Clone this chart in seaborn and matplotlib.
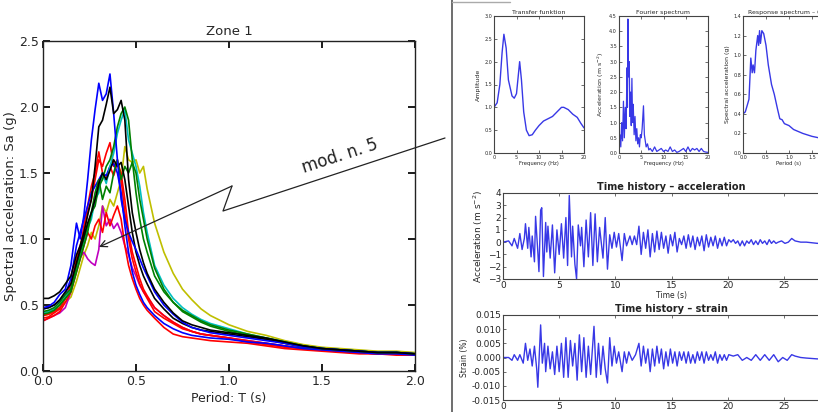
import numpy as np
import pandas as pd
import matplotlib
matplotlib.use("Agg")
import matplotlib.pyplot as plt
from matplotlib.lines import Line2D
import seaborn as sns

W, H = 818, 412

# ---- left panel: response spectra, Zone 1 ----
period = [0.00, 0.03, 0.06, 0.09, 0.12, 0.15, 0.18, 0.20, 0.22, 0.24, 0.26, 0.28,
          0.30, 0.32, 0.34, 0.36, 0.38, 0.40, 0.42, 0.44, 0.46, 0.48, 0.50, 0.52,
          0.54, 0.56, 0.60, 0.65, 0.70, 0.75, 0.80, 0.85, 0.90, 1.00, 1.10, 1.20,
          1.30, 1.40, 1.50, 1.60, 1.70, 1.80, 1.90, 2.00]

sa_blue_a = [0.48, 0.49, 0.52, 0.58, 0.62, 0.80, 1.12, 1.00, 1.18, 1.45, 1.75, 1.98,
             2.18, 2.05, 2.10, 2.25, 1.95, 1.60, 1.30, 1.15, 1.05, 0.98, 0.92, 0.85,
             0.78, 0.72, 0.60, 0.50, 0.43, 0.37, 0.33, 0.31, 0.29, 0.27, 0.25, 0.23,
             0.21, 0.18, 0.17, 0.16, 0.15, 0.14, 0.14, 0.13]
sa_black_a = [0.55, 0.55, 0.57, 0.60, 0.66, 0.72, 0.88, 0.95, 1.05, 1.18, 1.30, 1.55,
              1.85, 1.90, 2.02, 2.15, 1.95, 1.98, 2.05, 1.90, 1.45, 1.20, 1.05, 0.92,
              0.82, 0.74, 0.62, 0.52, 0.44, 0.38, 0.35, 0.33, 0.31, 0.29, 0.27, 0.25,
              0.22, 0.19, 0.17, 0.16, 0.15, 0.14, 0.14, 0.13]
sa_green_a = [0.45, 0.46, 0.48, 0.52, 0.58, 0.62, 0.80, 0.90, 1.00, 1.10, 1.20, 1.25,
              1.40, 1.45, 1.55, 1.60, 1.70, 1.85, 1.95, 2.00, 1.90, 1.60, 1.35, 1.15,
              1.00, 0.90, 0.72, 0.60, 0.52, 0.46, 0.42, 0.38, 0.35, 0.31, 0.28, 0.25,
              0.22, 0.19, 0.17, 0.16, 0.15, 0.14, 0.14, 0.13]
sa_cyan_a = [0.44, 0.45, 0.47, 0.50, 0.56, 0.62, 0.78, 0.88, 0.98, 1.08, 1.15, 1.30,
             1.35, 1.50, 1.42, 1.55, 1.65, 1.80, 1.90, 1.98, 1.75, 1.65, 1.55, 1.40,
             1.20, 1.05, 0.80, 0.65, 0.55, 0.48, 0.43, 0.39, 0.36, 0.32, 0.28, 0.25,
             0.22, 0.19, 0.17, 0.16, 0.15, 0.14, 0.14, 0.13]
sa_green_b = [0.43, 0.44, 0.46, 0.50, 0.55, 0.60, 0.75, 0.85, 0.95, 1.05, 1.20, 1.35,
              1.45, 1.30, 1.40, 1.35, 1.50, 1.60, 1.45, 1.55, 1.50, 1.58, 1.50, 1.30,
              1.15, 1.00, 0.78, 0.62, 0.52, 0.45, 0.41, 0.37, 0.34, 0.30, 0.27, 0.24,
              0.21, 0.18, 0.17, 0.16, 0.15, 0.14, 0.14, 0.13]
sa_red_a = [0.42, 0.43, 0.45, 0.48, 0.55, 0.65, 0.85, 0.95, 1.05, 1.20, 1.30, 1.45,
            1.60, 1.55, 1.65, 1.73, 1.55, 1.60, 1.45, 1.20, 1.00, 0.85, 0.75, 0.66,
            0.60, 0.55, 0.45, 0.40, 0.36, 0.32, 0.30, 0.28, 0.27, 0.25, 0.23, 0.21,
            0.19, 0.17, 0.16, 0.15, 0.14, 0.13, 0.13, 0.12]
sa_red_b = [0.40, 0.41, 0.44, 0.47, 0.55, 0.65, 0.80, 0.92, 1.10, 1.25, 1.40, 1.50,
            1.66, 1.50, 1.45, 1.55, 1.48, 1.58, 1.50, 1.30, 1.05, 0.90, 0.80, 0.70,
            0.62, 0.57, 0.48, 0.42, 0.37, 0.33, 0.30, 0.28, 0.27, 0.25, 0.22, 0.20,
            0.18, 0.17, 0.16, 0.15, 0.14, 0.13, 0.13, 0.12]
sa_red_c = [0.38, 0.40, 0.42, 0.45, 0.52, 0.60, 0.75, 0.85, 0.95, 1.05, 1.00, 1.10,
            1.15, 1.05, 1.20, 1.10, 1.18, 1.25, 1.15, 0.95, 0.80, 0.70, 0.62, 0.55,
            0.50, 0.46, 0.40, 0.33, 0.28, 0.26, 0.25, 0.24, 0.23, 0.22, 0.21, 0.19,
            0.17, 0.16, 0.15, 0.14, 0.13, 0.13, 0.12, 0.12]
sa_yellow_a = [0.42, 0.43, 0.45, 0.48, 0.52, 0.56, 0.68, 0.78, 0.88, 0.95, 1.05, 1.00,
               1.10, 1.25, 1.20, 1.30, 1.25, 1.35, 1.45, 1.70, 1.60, 1.58, 1.60, 1.50,
               1.55, 1.38, 1.12, 0.90, 0.74, 0.62, 0.54, 0.47, 0.42, 0.35, 0.30, 0.27,
               0.23, 0.20, 0.18, 0.17, 0.16, 0.15, 0.15, 0.14]
sa_magenta_a = [0.38, 0.40, 0.42, 0.44, 0.48, 0.60, 0.78, 0.86, 0.90, 0.85, 0.82, 0.80,
                0.92, 1.25, 1.10, 1.15, 1.08, 1.12, 1.05, 0.95, 0.88, 0.78, 0.72, 0.65,
                0.60, 0.56, 0.48, 0.42, 0.37, 0.33, 0.30, 0.28, 0.27, 0.25, 0.23, 0.21,
                0.19, 0.17, 0.16, 0.15, 0.14, 0.13, 0.13, 0.12]
sa_blue_b = [0.47, 0.48, 0.50, 0.53, 0.58, 0.70, 0.95, 1.05, 1.15, 1.25, 1.35, 1.40,
             1.45, 1.50, 1.48, 1.55, 1.57, 1.50, 1.35, 1.10, 0.90, 0.75, 0.65, 0.58,
             0.52, 0.48, 0.42, 0.36, 0.32, 0.29, 0.27, 0.26, 0.25, 0.24, 0.22, 0.21,
             0.19, 0.17, 0.16, 0.15, 0.14, 0.13, 0.13, 0.12]
sa_black_b = [0.47, 0.48, 0.50, 0.54, 0.60, 0.66, 0.82, 0.92, 1.02, 1.12, 1.20, 1.30,
              1.42, 1.50, 1.45, 1.52, 1.60, 1.55, 1.58, 1.45, 1.25, 1.05, 0.90, 0.80,
              0.72, 0.66, 0.55, 0.47, 0.40, 0.36, 0.33, 0.31, 0.30, 0.28, 0.26, 0.24,
              0.21, 0.19, 0.17, 0.16, 0.15, 0.14, 0.14, 0.13]

records = {
    "yellow_a": (sa_yellow_a, "#bfbf00"),
    "magenta_a": (sa_magenta_a, "#bf00bf"),
    "red_c": (sa_red_c, "#ff0000"),
    "red_b": (sa_red_b, "#ff0000"),
    "red_a": (sa_red_a, "#ff0000"),
    "blue_b": (sa_blue_b, "#0000ff"),
    "cyan_a": (sa_cyan_a, "#00bfbf"),
    "green_b": (sa_green_b, "#008000"),
    "green_a": (sa_green_a, "#008000"),
    "black_b": (sa_black_b, "#000000"),
    "blue_a": (sa_blue_a, "#0000ff"),
    "black_a": (sa_black_a, "#000000"),
}

# ---- right panels ----
tf_freq = [0.0, 0.7, 1.3, 1.8, 2.2, 2.7, 3.2, 4.0, 4.5, 5.0, 5.4, 5.7, 6.1, 6.6, 7.2,
           7.8, 8.5, 9.2, 10.0, 11.0, 12.0, 13.0, 14.0, 15.0, 15.5, 16.5, 17.5, 18.5,
           19.3, 20.0]
tf_amp = [1.0, 1.1, 1.5, 2.2, 2.6, 2.3, 1.6, 1.25, 1.2, 1.3, 1.7, 2.0, 1.6, 0.9, 0.5,
          0.38, 0.4, 0.5, 0.6, 0.7, 0.75, 0.8, 0.9, 1.0, 1.0, 0.95, 0.85, 0.78, 0.65,
          0.55]

fs_freq = [0.0, 0.2, 0.4, 0.6, 0.8, 1.0, 1.2, 1.4, 1.6, 1.8, 1.9, 2.0, 2.15, 2.3, 2.45,
           2.6, 2.75, 2.9, 3.05, 3.2, 3.4, 3.6, 3.8, 4.0, 4.2, 4.4, 4.6, 4.8, 5.0, 5.2,
           5.5, 5.7, 5.9, 6.1, 6.4, 6.7, 7.0, 7.5, 8.0, 8.5, 9.0, 9.5, 10.0, 10.5, 11.0,
           11.5, 12.0, 12.5, 13.0, 13.5, 14.0, 14.5, 15.0, 15.5, 16.0, 16.5, 17.0, 17.5,
           18.0, 18.5, 19.0, 19.5, 20.0]
fs_acc = [0.0, 0.6, 0.2, 1.0, 0.4, 1.7, 0.5, 1.5, 0.8, 2.8, 1.5, 4.4, 2.5, 3.0, 1.2,
          2.0, 0.9, 2.45, 1.0, 1.6, 0.6, 1.2, 0.4, 0.8, 0.3, 0.5, 0.2, 0.6, 0.5, 0.8,
          1.55, 0.6, 0.4, 0.2, 0.3, 0.1, 0.15, 0.05, 0.2, 0.05, 0.1, 0.15, 0.05, 0.1,
          0.05, 0.2, 0.05, 0.1, 0.02, 0.05, 0.1, 0.15, 0.05, 0.2, 0.05, 0.15, 0.1, 0.15,
          0.05, 0.15, 0.05, 0.03, 0.02]

rs_period = [0.0, 0.05, 0.1, 0.13, 0.17, 0.2, 0.22, 0.25, 0.28, 0.32, 0.34, 0.36, 0.38,
             0.41, 0.45, 0.5, 0.55, 0.62, 0.68, 0.75, 0.8, 0.85, 0.9, 1.0, 1.1, 1.3, 1.5,
             1.7, 1.8, 2.0]
rs_sa = [0.4, 0.42, 0.5, 0.55, 0.97, 0.82, 0.9, 0.82, 1.05, 1.2, 1.1, 1.25, 1.12, 1.25,
         1.22, 1.1, 0.9, 0.7, 0.6, 0.45, 0.35, 0.34, 0.3, 0.28, 0.24, 0.2, 0.17, 0.15,
         0.14, 0.13]

acc_time = [0.0, 0.5, 0.8, 1.0, 1.3, 1.5, 1.7, 1.9, 2.0, 2.2, 2.3, 2.5, 2.6, 2.8, 2.9,
            3.1, 3.2, 3.35, 3.45, 3.6, 3.8, 3.9, 4.0, 4.2, 4.4, 4.6, 4.8, 5.0, 5.2, 5.4,
            5.6, 5.75, 5.9, 6.1, 6.2, 6.4, 6.55, 6.7, 6.9, 7.0, 7.2, 7.4, 7.6, 7.8, 8.0,
            8.2, 8.4, 8.6, 8.9, 9.1, 9.3, 9.5, 9.7, 9.9, 10.1, 10.3, 10.6, 10.8, 11.0,
            11.3, 11.5, 11.7, 11.9, 12.1, 12.3, 12.5, 12.7, 12.9, 13.1, 13.3, 13.5, 13.7,
            13.9, 14.1, 14.3, 14.5, 14.7, 14.9, 15.1, 15.3, 15.5, 15.7, 15.9, 16.1, 16.3,
            16.5, 16.7, 16.9, 17.1, 17.3, 17.5, 17.7, 17.9, 18.1, 18.3, 18.5, 18.7, 18.9,
            19.1, 19.3, 19.5, 19.7, 19.9, 20.1, 20.3, 20.5, 20.7, 20.9, 21.1, 21.3, 21.5,
            21.7, 21.9, 22.1, 22.3, 22.5, 22.7, 22.9, 23.1, 23.3, 23.5, 23.7, 23.9, 24.1,
            24.3, 24.5, 24.8, 25.1, 25.4, 25.7, 26.0, 26.5, 27.0, 27.5, 28.0, 28.5, 29.0,
            30.0]
acc_val = [0.0, 0.1, -0.3, 0.3, -0.5, 0.7, -0.6, 0.3, 1.5, -0.5, 1.2, -1.2, 0.5, -1.6,
           2.1, -0.8, -2.4, 2.6, 2.8, -2.8, 1.6, -0.8, 1.3, -1.3, 1.4, -2.5, 1.0, -1.0,
           1.5, -1.3, 2.0, -1.9, 3.8, -1.2, 1.3, -1.8, -3.0, 1.4, -0.3, 1.2, -2.0, 1.8,
           -1.2, 2.4, -1.9, 2.3, -1.6, 1.2, -1.3, 2.0, -2.2, 0.6, -0.5, 0.8, -0.4, 0.7,
           -1.5, 0.7, -0.3, 0.5, -0.2, 0.5, -0.2, 1.3, -1.0, 0.8, -0.5, 1.0, -1.2, 0.7,
           -0.8, 0.9, -0.6, 0.8, -0.5, 0.5, -0.9, 0.6, -0.3, 0.8, -0.8, 0.3, -0.2, 0.5,
           -0.5, 0.6, -0.4, 0.5, -0.6, 0.4, -0.3, 0.5, -0.7, 0.6, -0.4, 0.4, -0.3, 0.5,
           -0.5, 0.3, -0.3, 0.4, -0.3, 0.2, 0.0, 0.2, -0.1, 0.1, -0.3, 0.1, -0.3, 0.1,
           -0.1, 0.2, -0.2, 0.1, -0.2, 0.2, -0.1, 0.1, -0.2, 0.2, -0.1, 0.1, -0.1, 0.0,
           0.1, -0.1, 0.0, 0.3, 0.1, 0.0, 0.0, -0.05, -0.1, 0.0, 0.0, 0.0]

strain_time = [0.0, 0.5, 0.8, 1.0, 1.3, 1.5, 1.8, 2.0, 2.2, 2.4, 2.6, 2.8, 3.0, 3.1,
               3.35, 3.5, 3.7, 3.8, 4.0, 4.2, 4.4, 4.6, 4.8, 5.0, 5.2, 5.4, 5.6, 5.8,
               6.0, 6.2, 6.4, 6.6, 6.8, 7.0, 7.2, 7.4, 7.6, 7.8, 8.1, 8.3, 8.5, 8.7,
               8.9, 9.1, 9.3, 9.5, 9.7, 9.9, 10.1, 10.3, 10.6, 10.8, 11.0, 11.2, 11.5,
               11.8, 12.1, 12.3, 12.5, 12.7, 12.9, 13.1, 13.3, 13.5, 13.7, 13.9, 14.1,
               14.3, 14.5, 14.7, 14.9, 15.1, 15.3, 15.5, 15.7, 15.9, 16.1, 16.3, 16.5,
               16.7, 16.9, 17.1, 17.3, 17.5, 17.7, 17.9, 18.1, 18.3, 18.5, 18.7, 18.9,
               19.1, 19.3, 19.5, 19.7, 19.9, 20.1, 20.5, 20.9, 21.3, 21.7, 22.1, 22.5,
               22.9, 23.3, 23.7, 24.1, 24.5, 24.9, 25.3, 25.7, 26.0, 26.5, 27.0, 28.0,
               29.0, 30.0]
strain_val = [0.0, 0.0, -0.001, 0.001, -0.001, 0.001, -0.002, 0.005, -0.001, 0.003,
              -0.003, 0.004, -0.004, -0.0105, 0.0115, -0.002, 0.005, -0.005, 0.004,
              -0.004, 0.002, -0.006, 0.004, -0.005, 0.005, -0.007, 0.007, -0.007, 0.006,
              -0.003, 0.005, -0.008, 0.008, -0.005, 0.007, -0.007, 0.004, -0.006, 0.011,
              -0.007, 0.005, -0.006, 0.004, -0.004, -0.009, 0.007, -0.003, 0.004,
              -0.002, 0.002, -0.005, 0.002, -0.002, 0.002, -0.001, 0.001, 0.005, -0.003,
              0.004, -0.002, 0.003, -0.005, 0.003, -0.003, 0.004, -0.002, 0.003, -0.004,
              0.002, -0.003, 0.003, -0.002, 0.002, -0.003, 0.002, -0.001, 0.002, -0.002,
              0.002, -0.002, 0.001, -0.002, 0.002, -0.001, 0.002, -0.002, 0.002, -0.001,
              0.001, -0.001, 0.002, -0.002, 0.001, -0.001, 0.001, -0.001, 0.001, 0.0005,
              0.001, -0.001, 0.0, -0.001, 0.001, -0.001, 0.001, -0.001, 0.001, -0.0015,
              0.0, -0.001, 0.001, 0.0005, 0.0, -0.0002, -0.0005, 0.0, 0.0]

sns.set_theme(style="ticks", rc={"xtick.direction": "in", "ytick.direction": "in"})
plt.rcParams["font.family"] = ["DejaVu Sans"]
plt.rcParams["axes.edgecolor"] = "black"

fig = plt.figure(figsize=(W / 100, H / 100), dpi=100, facecolor="white")


def rect(left, top, right, bottom):
    return [left / W, 1 - bottom / H, (right - left) / W, (bottom - top) / H]


# ---- left big plot ----
ax = fig.add_axes(rect(43, 41, 415, 371))
rows = []
for name, (vals, col) in records.items():
    for p, v in zip(period, vals):
        rows.append({"record": name, "T": p, "Sa": v})
df = pd.DataFrame(rows)
palette = {name: col for name, (vals, col) in records.items()}
sns.lineplot(data=df, x="T", y="Sa", hue="record", palette=palette, estimator=None,
             legend=False, linewidth=1.2, ax=ax)
ax.set_xlim(0, 2.0)
ax.set_ylim(0, 2.5)
ax.set_xticks([0.0, 0.5, 1.0, 1.5, 2.0])
ax.set_yticks([0.0, 0.5, 1.0, 1.5, 2.0, 2.5])
ax.xaxis.set_major_formatter(matplotlib.ticker.FormatStrFormatter("%.1f"))
ax.yaxis.set_major_formatter(matplotlib.ticker.FormatStrFormatter("%.1f"))
ax.tick_params(top=True, right=True, direction="in", labelsize=9, length=5,
               color="black", pad=3)
for s in ax.spines.values():
    s.set_color("#222222")
    s.set_linewidth(1.0)
ax.set_title("Zone 1", fontsize=9.5, pad=4)
ax.set_xlabel("Period: T (s)", fontsize=9, labelpad=3)
ax.set_ylabel("Spectral acceleration: Sa (g)", fontsize=9.5)
ax.yaxis.set_label_coords(-0.07, 0.5)

# lightning-style pointer to mod. n. 5
def fp(x, y):
    return (x / W, 1 - y / H)

p0, p1, p2, p3 = fp(445, 138), fp(223, 211), fp(232, 186), fp(99, 247)
fig.add_artist(Line2D([p0[0], p1[0], p2[0]], [p0[1], p1[1], p2[1]],
                      transform=fig.transFigure, color="#222222", lw=0.9))
ax.annotate("", xy=p3, xytext=p2, xycoords="figure fraction",
            textcoords="figure fraction",
            arrowprops=dict(arrowstyle="->", color="#222222", lw=0.9,
                            shrinkA=0, shrinkB=0))
fig.text(*fp(340, 156), "mod. n. 5", rotation=18, fontsize=12, ha="center",
         va="center", color="#222222")

# right screenshot frame
fig.add_artist(Line2D([452 / W, 452 / W], [0, 1], transform=fig.transFigure,
                      color="#555555", lw=1.2))
fig.add_artist(Line2D([452 / W, 510 / W], [1 - 1.5 / H, 1 - 1.5 / H],
                      transform=fig.transFigure, color="#aaaaaa", lw=1.0))

blue = "#3838e6"


def small_axes(r, fs_tick):
    a = fig.add_axes(r)
    a.tick_params(top=True, right=True, direction="in", labelsize=fs_tick,
                  length=2, width=0.5, pad=1.5, color="#333333")
    for s in a.spines.values():
        s.set_color("#444444")
        s.set_linewidth(0.8)
    return a


# transfer function
a1 = small_axes(rect(494, 16, 584, 153), 3.5)
sns.lineplot(x=tf_freq, y=tf_amp, color=blue, linewidth=1.0, ax=a1)
a1.set_xlim(0, 20)
a1.set_ylim(0, 3.0)
a1.set_xticks([0, 5, 10, 15, 20])
a1.set_yticks([0.0, 0.5, 1.0, 1.5, 2.0, 2.5, 3.0])
a1.yaxis.set_major_formatter(matplotlib.ticker.FormatStrFormatter("%.1f"))
a1.set_title("Transfer funktion", fontsize=4.5, pad=1.5)
a1.set_xlabel("Frequency (Hz)", fontsize=3.8, labelpad=1)
a1.set_ylabel("Amplitude", fontsize=4.5, labelpad=2)

# fourier spectrum
a2 = small_axes(rect(619, 16, 708, 153), 3.5)
sns.lineplot(x=fs_freq, y=fs_acc, color=blue, linewidth=0.9, ax=a2)
a2.set_xlim(0, 20)
a2.set_ylim(0, 4.5)
a2.set_xticks([0, 5, 10, 15, 20])
a2.set_yticks([0.0, 0.5, 1.0, 1.5, 2.0, 2.5, 3.0, 3.5, 4.0, 4.5])
a2.yaxis.set_major_formatter(matplotlib.ticker.FormatStrFormatter("%.1f"))
a2.set_title("Fourier spectrum", fontsize=4.5, pad=1.5)
a2.set_xlabel("Frequency (Hz)", fontsize=3.8, labelpad=1)
a2.set_ylabel("Acceleration (m s$^{-2}$)", fontsize=4.5, labelpad=2)

# response spectrum
a3 = small_axes(rect(743, 16, 835, 153), 3.5)
sns.lineplot(x=rs_period, y=rs_sa, color=blue, linewidth=1.0, ax=a3)
a3.set_xlim(0, 2.0)
a3.set_ylim(0, 1.4)
a3.set_xticks([0.0, 0.5, 1.0, 1.5, 2.0])
a3.set_yticks([0.0, 0.2, 0.4, 0.6, 0.8, 1.0, 1.2, 1.4])
a3.xaxis.set_major_formatter(matplotlib.ticker.FormatStrFormatter("%.1f"))
a3.yaxis.set_major_formatter(matplotlib.ticker.FormatStrFormatter("%.1f"))
a3.set_title("Response spectrum \u2013 0.05", fontsize=4.5, pad=1.5)
a3.set_xlabel("Period (s)", fontsize=3.8, labelpad=1)
a3.set_ylabel("Spectral acceleration (g)", fontsize=4.5, labelpad=2)

# time history acceleration
a4 = small_axes(rect(503, 193, 840, 279), 6.5)
sns.lineplot(x=acc_time, y=acc_val, color=blue, linewidth=1.0, ax=a4)
a4.set_xlim(0, 30)
a4.set_ylim(-3, 4)
a4.set_xticks([0, 5, 10, 15, 20, 25, 30])
a4.set_yticks([-3, -2, -1, 0, 1, 2, 3, 4])
a4.set_title("Time history \u2013 acceleration", fontsize=7, pad=2,
             fontweight="semibold", color="#222222")
a4.set_xlabel("Time (s)", fontsize=5.5, labelpad=1)
a4.set_ylabel("Acceleration (m s$^{-2}$)", fontsize=6.5, labelpad=2)

# time history strain
a5 = small_axes(rect(503, 315, 840, 400), 6.5)
sns.lineplot(x=strain_time, y=strain_val, color=blue, linewidth=1.0, ax=a5)
a5.set_xlim(0, 30)
a5.set_ylim(-0.015, 0.015)
a5.set_xticks([0, 5, 10, 15, 20, 25, 30])
a5.set_yticks([-0.015, -0.010, -0.005, 0.0, 0.005, 0.010, 0.015])
a5.yaxis.set_major_formatter(matplotlib.ticker.FormatStrFormatter("%.3f"))
a5.set_title("Time history \u2013 strain", fontsize=7, pad=2,
             fontweight="semibold", color="#222222")
a5.set_ylabel("Strain (%)", fontsize=5.5, labelpad=2)
a5.set_xlabel("")

fig.savefig("out.png", dpi=100, facecolor="white")
